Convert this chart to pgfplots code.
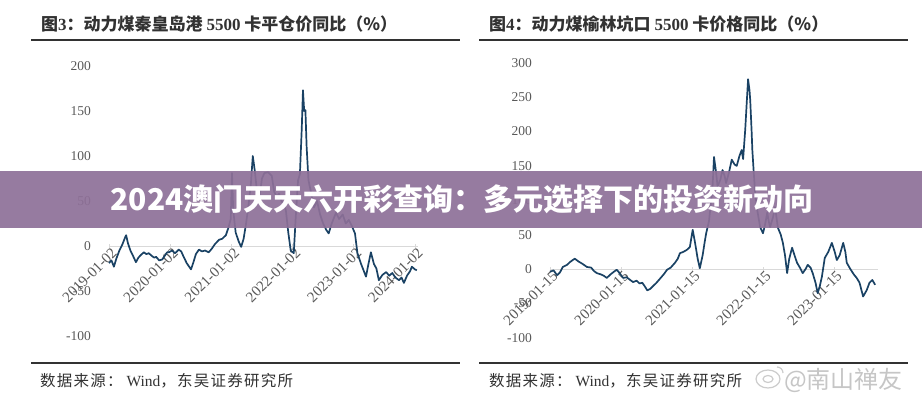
\documentclass[border=0pt]{standalone}
\usepackage{pgfplots}
\pgfplotsset{compat=1.18}
\usepackage{fontspec}
\setmainfont{Liberation Serif}
\newfontfamily\cjk{Noto Sans CJK SC}
\newfontfamily\cjks[LetterSpace=8]{Noto Sans CJK SC}
\definecolor{linec}{RGB}{26,66,100}
\definecolor{bannerc}{RGB}{142,112,152}
\definecolor{ticktext}{RGB}{89,89,89}
\definecolor{titlec}{RGB}{50,50,50}
\pgfplotsset{
  mystyle/.style={
    scale only axis, anchor=origin,
    axis x line*=middle, axis y line*=left,
    hide obscured x ticks=false,
    y axis line style={draw=none},
    x axis line style={draw=gray!30, line width=1pt},
    ytick style={draw=none},
    xtick style={draw=gray!30, line width=0.8pt},
    major tick length=5pt, tick align=center,
    /pgf/number format/assume math mode=true,
    yticklabel style={font=\fontsize{13.5}{14}\selectfont, text=ticktext, xshift=-12pt},
    xticklabel style={font=\fontsize{15}{15}\selectfont, text=ticktext, rotate=45, anchor=east, xshift=6pt, yshift=-5pt},
    xtick={0,1,2,3,4,5},
    clip=false,
  }
}
\begin{document}
\begin{tikzpicture}[x=1pt,y=1pt]
\useasboundingbox (0,0) rectangle (922,400);
\fill[white] (0,0) rectangle (922,400);
% titles
\node[anchor=west, text=titlec, inner sep=0pt] at (41,376) {\cjk\bfseries\fontsize{17}{19}\selectfont 图{\rmfamily\bfseries 3}：动力煤秦皇岛港 {\rmfamily\bfseries 5500} 卡平仓价同比（\%）};
\node[anchor=west, text=titlec, inner sep=0pt] at (489,376) {\cjk\bfseries\fontsize{17}{19}\selectfont 图{\rmfamily\bfseries 4}：动力煤榆林坑口 {\rmfamily\bfseries 5500} 卡价格同比（\%）};
\draw[titlec, line width=1.6pt] (31,360) -- (460,360);
\draw[titlec, line width=1.6pt] (479,360) -- (908,360);
\draw[titlec, line width=1.6pt] (31,37) -- (460,37);
\draw[titlec, line width=1.6pt] (479,37) -- (908,37);
\node[anchor=west, text=titlec, inner sep=0pt] at (40,19) {\cjks\fontsize{15.5}{17}\selectfont 数据来源：{\rmfamily\ Wind}\cjks，东吴证券研究所};
\node[anchor=west, text=titlec, inner sep=0pt] at (489,19) {\cjks\fontsize{15.5}{17}\selectfont 数据来源：{\rmfamily\ Wind}\cjks，东吴证券研究所};

\begin{axis}[mystyle, at={(109pt,154pt)}, width=309pt, height=270pt,
  xmin=0, xmax=5.05, ymin=-100, ymax=200, ytick={-100,-50,0,50,100,150,200},
  xticklabels={2019-01-02,2020-01-02,2021-01-02,2022-01-02,2023-01-02,2024-01-02}]
\addplot[linec, line width=1.7pt, line join=round] coordinates {
(0.00,-19)(0.04,-16)(0.08,-23)(0.12,-14)(0.17,-5)(0.22,2)(0.26,9)(0.28,12)(0.31,3)(0.35,-5)
(0.40,-12)(0.44,-18)(0.48,-13)(0.52,-10)(0.57,-7)(0.61,-9)(0.65,-8)(0.70,-11)(0.74,-13)(0.77,-12)
(0.82,-16)(0.87,-15)(0.91,-11)(0.95,-7)(0.98,-7)(1.03,-5)(1.08,-8)(1.14,-4)(1.18,-6)(1.22,-12)
(1.27,-19)(1.31,-23)(1.34,-26)(1.38,-18)(1.42,-9)(1.47,-4)(1.52,-6)(1.57,-5)(1.63,-7)(1.68,-3)
(1.73,2)(1.80,7)(1.85,8)(1.91,12)(1.95,20)(1.99,30)(2.01,81)(2.03,40)(2.07,15)(2.12,5)
(2.16,-1)(2.20,8)(2.24,25)(2.28,45)(2.32,70)(2.35,100)(2.38,85)(2.42,60)(2.46,55)(2.50,75)
(2.54,81)(2.60,82)(2.66,78)(2.70,60)(2.74,55)(2.78,58)(2.82,50)(2.86,45)(2.89,40)(2.93,15)
(2.97,-5)(3.02,-8)(3.05,30)(3.09,73)(3.12,80)(3.15,130)(3.17,173)(3.19,150)(3.21,151)(3.23,110)
(3.26,73)(3.30,60)(3.35,43)(3.40,50)(3.45,35)(3.50,25)(3.55,18)(3.59,14)(3.64,25)(3.71,37)
(3.76,30)(3.82,35)(3.87,25)(3.92,29)(3.97,22)(4.02,14)(4.06,-8)(4.12,-20)(4.20,-34)(4.24,-20)
(4.28,-7)(4.33,-20)(4.37,-25)(4.41,-38)(4.47,-32)(4.53,-29)(4.58,-33)(4.63,-30)(4.68,-35)(4.74,-38)
(4.78,-35)(4.82,-41)(4.87,-33)(4.92,-28)(4.95,-23)(5.00,-26)(5.03,-27)
};
\end{axis}

\begin{axis}[mystyle, at={(550pt,131pt)}, width=328pt, height=275pt,
  xmin=0, xmax=4.62, ymin=-100, ymax=300, ytick={-100,-50,0,50,100,150,200,250,300},
  xtick={0,1,2,3,4},
  xticklabels={2019-01-15,2020-01-15,2021-01-15,2022-01-15,2023-01-15}]
\addplot[linec, line width=1.7pt, line join=round] coordinates {
(0.00,-4)(0.05,-2)(0.10,-9)(0.14,-5)(0.18,3)(0.24,6)(0.28,10)(0.32,13)(0.35,15)(0.40,11)
(0.45,8)(0.52,3)(0.58,2)(0.62,-3)(0.66,-6)(0.72,-8)(0.76,-10)(0.80,-13)(0.85,-8)(0.90,-4)
(0.94,-1)(0.98,-6)(1.03,-13)(1.08,-12)(1.13,-16)(1.17,-19)(1.22,-17)(1.26,-21)(1.30,-20)(1.34,-26)
(1.37,-31)(1.41,-29)(1.45,-25)(1.50,-20)(1.55,-14)(1.60,-8)(1.65,-1)(1.70,2)(1.76,9)(1.80,15)
(1.83,23)(1.88,25)(1.93,28)(1.97,32)(2.01,57)(2.04,40)(2.08,15)(2.11,1)(2.15,20)(2.18,40)
(2.20,52)(2.24,70)(2.27,100)(2.29,120)(2.31,163)(2.34,140)(2.36,120)(2.40,130)(2.43,144)(2.46,135)
(2.48,125)(2.52,140)(2.56,159)(2.60,152)(2.63,150)(2.67,165)(2.70,173)(2.72,160)(2.75,203)(2.77,240)
(2.79,276)(2.81,260)(2.82,246)(2.84,200)(2.85,173)(2.87,140)(2.89,110)(2.92,85)(2.96,61)(3.00,52)
(3.03,65)(3.06,82)(3.08,70)(3.10,61)(3.14,75)(3.17,90)(3.19,75)(3.21,60)(3.25,50)(3.28,38)
(3.31,20)(3.34,-6)(3.37,15)(3.41,31)(3.45,18)(3.48,9)(3.52,2)(3.56,-6)(3.60,0)(3.63,6)
(3.67,2)(3.70,-6)(3.74,-20)(3.77,-35)(3.80,-25)(3.83,-11)(3.87,16)(3.92,25)(3.97,38)(4.01,25)
(4.04,13)(4.08,20)(4.13,38)(4.16,25)(4.18,9)(4.23,0)(4.28,-8)(4.32,-13)(4.36,-20)(4.41,-40)
(4.46,-31)(4.50,-20)(4.54,-16)(4.58,-23)
};
\end{axis}

% banner
\fill[bannerc, opacity=0.92] (0,172) rectangle (922,229);
\node[text=white, inner sep=0pt] at (462,201) {\cjk\bfseries\fontsize{30}{31}\selectfont 2024澳门天天六开彩查询：多元选择下的投资新动向};

% watermark
\begin{scope}[gray!40, line width=1.2pt]
\draw (768,21) ellipse (12 and 9);
\draw (768,21) ellipse (5 and 3.5);
\draw (777,33) arc (90:0:6);
\end{scope}
\node[anchor=west, text=gray!45, inner sep=0pt] at (784,20) {\cjk\fontsize{24}{26}\selectfont @南山禅友};
\end{tikzpicture}
\end{document}
